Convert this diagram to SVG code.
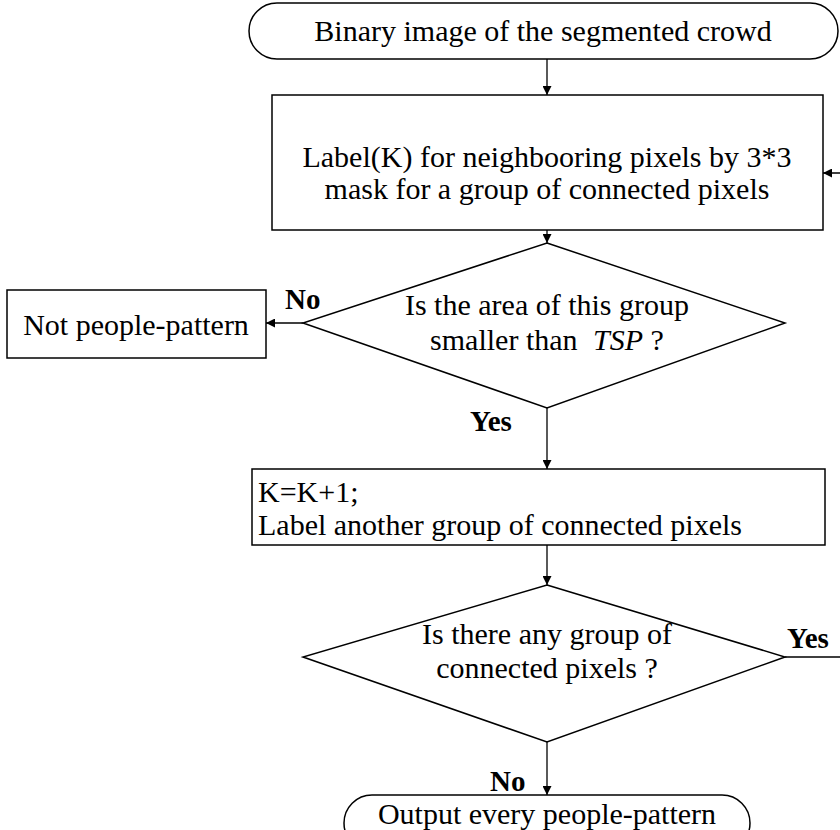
<svg xmlns="http://www.w3.org/2000/svg" width="840" height="830" viewBox="0 0 840 830">
<defs>
<marker id="arr" viewBox="0 0 10 10" refX="10" refY="5" markerWidth="11" markerHeight="9" markerUnits="userSpaceOnUse" orient="auto">
<path d="M0,0 L10,5 L0,10 z" fill="#000"/>
</marker>
<style>
.s{fill:#fff;stroke:#000;stroke-width:1.5}
.t{font-family:"Liberation Serif","Times New Roman",serif;font-size:30px;fill:#000}
.c{text-anchor:middle}
.b{font-weight:bold;font-size:29px}
.l{fill:none;stroke:#000;stroke-width:1.3}
</style>
</defs>
<rect width="840" height="830" fill="#fff"/>
<g id="connectors">
<line class="l" x1="547" y1="59" x2="547" y2="95" marker-end="url(#arr)"/>
<line class="l" x1="547" y1="230" x2="547" y2="243" marker-end="url(#arr)"/>
<line class="l" x1="303" y1="323" x2="266" y2="323" marker-end="url(#arr)"/>
<line class="l" x1="547" y1="408" x2="547" y2="469" marker-end="url(#arr)"/>
<line class="l" x1="547" y1="545" x2="547" y2="585" marker-end="url(#arr)"/>
<line class="l" x1="547" y1="742" x2="547" y2="795" marker-end="url(#arr)"/>
<polyline class="l" points="785,657 860,657 860,173 823,173" marker-end="url(#arr)"/>
<text class="t b" x="285" y="309">No</text>
<text class="t b" x="470" y="431">Yes</text>
<text class="t b" x="787" y="648">Yes</text>
<text class="t b" x="490" y="791">No</text>
</g>
<g id="start">
<rect class="s" x="249" y="3" width="589" height="56" rx="28"/>
<text class="t c" x="543" y="41">Binary image of the segmented crowd</text>
</g>
<g id="label">
<rect class="s" x="272" y="95" width="551" height="135"/>
<text class="t c" x="547" y="167">Label(K) for neighbooring pixels by 3*3</text>
<text class="t c" x="547" y="199">mask for a group of connected pixels</text>
</g>
<g id="area-check">
<polygon class="s" points="547,243 785,323 547,408 303,323"/>
<text class="t c" x="547" y="315">Is the area of this group</text>
<text class="t c" x="547" y="350">smaller than <tspan dx="8" font-style="italic">TSP</tspan> ?</text>
</g>
<g id="not-people">
<rect class="s" x="7" y="290" width="259" height="68"/>
<text class="t c" x="136" y="335">Not people-pattern</text>
</g>
<g id="increment">
<rect class="s" x="252" y="469" width="573" height="76"/>
<text class="t" x="258" y="502">K=K+1;</text>
<text class="t" x="258" y="535">Label another group of connected pixels</text>
</g>
<g id="any-check">
<polygon class="s" points="547,585 785,657 547,742 303,657"/>
<text class="t c" x="547" y="644">Is there any group of</text>
<text class="t c" x="547" y="678">connected pixels ?</text>
</g>
<g id="output">
<rect class="s" x="344" y="795" width="406" height="56" rx="28"/>
<text class="t c" x="547" y="824">Output every people-pattern</text>
</g>
</svg>
